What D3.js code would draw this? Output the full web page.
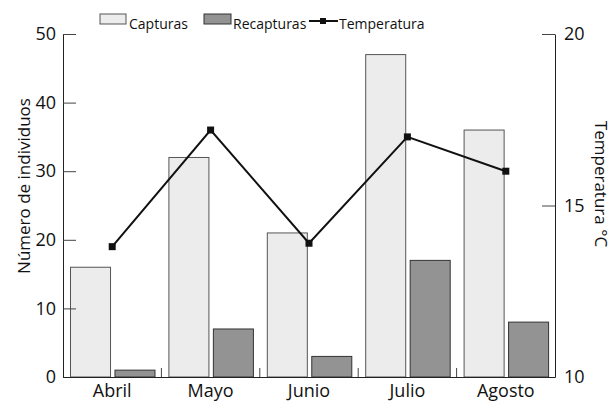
<!DOCTYPE html>
<html><head><meta charset="utf-8">
<script src="https://cdn.jsdelivr.net/npm/d3@7"></script>
<style>body{margin:0;background:#fff}svg{display:block}text{font-family:"Open Sans",sans-serif;fill:#111}</style>
</head><body>
<script>
const months = ["Abril","Mayo","Junio","Julio","Agosto"];
const capturas = [16,32,21,47,36];
const recapturas = [1,7,3,17,8];
const temperatura = [13.8,17.2,13.9,17.0,16.0];
const leftTicks = [0,10,20,30,40,50];
const rightTicks = [10,15,20];
const seriesNames = ["Capturas","Recapturas","Temperatura"];

const W=615,H=402, m={l:63,r:60,t:34,b:25};
const svg=d3.select("body").append("svg").attr("width",W).attr("height",H);
const x=d3.scaleBand().domain(months).range([m.l,W-m.r]).padding(0);
const xs=d3.scaleBand().domain(["c","r"]).range([7.5,92]).paddingInner(0.1);
const y=d3.scaleLinear().domain([0,50]).range([H-m.b,m.t]);
const y2=d3.scaleLinear().domain([10,20]).range([H-m.b,m.t]);

const fillC="#ececec", strokeC="#555", fillR="#939393", strokeR="#333";
const g=svg.append("g");
months.forEach((mo,i)=>{
  g.append("rect").attr("x",x(mo)+xs("c")).attr("width",xs.bandwidth())
   .attr("y",y(capturas[i])).attr("height",y(0)-y(capturas[i]))
   .attr("fill",fillC).attr("stroke",strokeC).attr("stroke-width",1);
  g.append("rect").attr("x",x(mo)+xs("r")).attr("width",xs.bandwidth())
   .attr("y",y(recapturas[i])).attr("height",y(0)-y(recapturas[i]))
   .attr("fill",fillR).attr("stroke",strokeR).attr("stroke-width",1);
});

// left axis
const la=svg.append("g").attr("transform",`translate(${m.l},0)`)
 .call(d3.axisLeft(y).tickValues(leftTicks).tickSize(0).tickPadding(7));
la.select(".domain").attr("stroke","#222");
la.selectAll(".tick").append("line").attr("x1",0).attr("x2",13).attr("stroke","#444");
la.selectAll("text").style("font-size","18px").style("font-family","Open Sans");

// right axis
const ra=svg.append("g").attr("transform",`translate(${W-m.r},0)`)
 .call(d3.axisRight(y2).tickValues(rightTicks).tickSize(0).tickPadding(9));
ra.select(".domain").attr("stroke","#222");
ra.selectAll(".tick").append("line").attr("x1",0).attr("x2",-13).attr("stroke","#444");
ra.selectAll("text").style("font-size","18px").style("font-family","Open Sans");

// bottom axis
const ba=svg.append("g").attr("transform",`translate(0,${H-m.b})`)
 .call(d3.axisBottom(x).tickSize(0).tickPadding(7));
ba.select(".domain").attr("stroke","#222");
ba.selectAll("text").style("font-size","18px").style("font-family","Open Sans");
months.slice(1).forEach(mo=>{
  ba.append("line").attr("x1",x(mo)).attr("x2",x(mo)).attr("y1",0).attr("y2",-9).attr("stroke","#444");
});

// line
const pts=months.map((mo,i)=>[x(mo)+x.bandwidth()/2,y2(temperatura[i])]);
svg.append("path").attr("d",d3.line()(pts)).attr("fill","none").attr("stroke","#111").attr("stroke-width",2);
svg.selectAll(".mk").data(pts).enter().append("rect").attr("x",d=>d[0]-3.5).attr("y",d=>d[1]-3.5)
 .attr("width",7).attr("height",7).attr("fill","#111");

// axis titles
svg.append("text").attr("transform",`translate(24,186) rotate(-90)`).attr("text-anchor","middle")
 .attr("dy","0.35em").style("font-size","17px").text("Número de individuos");
svg.append("text").attr("transform",`translate(601,184) rotate(90)`).attr("text-anchor","middle")
 .attr("dy","0.35em").style("font-size","17px").text("Temperatura °C");

// legend
const lg=svg.append("g");
lg.append("rect").attr("x",100).attr("y",14).attr("width",26).attr("height",10).attr("fill",fillC).attr("stroke",strokeC);
lg.append("text").attr("x",129).attr("y",29).style("font-size","14px").text(seriesNames[0]);
lg.append("rect").attr("x",204).attr("y",14).attr("width",27).attr("height",10).attr("fill",fillR).attr("stroke",strokeR);
lg.append("text").attr("x",233).attr("y",29).style("font-size","14px").text(seriesNames[1]);
lg.append("line").attr("x1",309).attr("x2",338).attr("y1",21).attr("y2",21).attr("stroke","#111").attr("stroke-width",2);
lg.append("rect").attr("x",320).attr("y",18).attr("width",6).attr("height",6).attr("fill","#111");
lg.append("text").attr("x",339).attr("y",29).style("font-size","14px").text(seriesNames[2]);
</script>
</body></html>
